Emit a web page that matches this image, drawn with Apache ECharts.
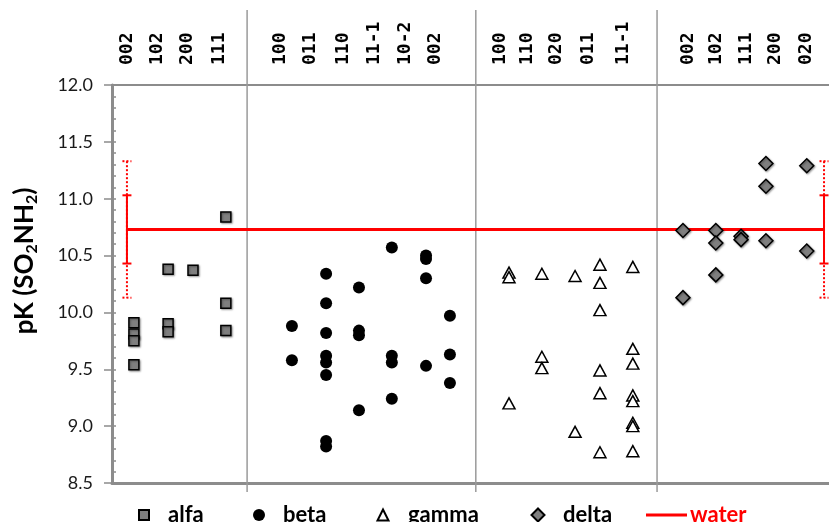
<!DOCTYPE html>
<html>
<head>
<meta charset="utf-8">
<script src="https://cdn.jsdelivr.net/npm/echarts@6/dist/echarts.min.js"></script>
<style>
  html, body { margin: 0; padding: 0; background: #fff; }
  #chart { width: 829px; height: 522px; }
</style>
</head>
<body>
<div id="chart"></div>
<script>
// Planes (hkl) per phase, their x slots, and measured pK values per plane
const alfaPlanes = ['002', '102', '200', '111'];
const alfaPos = [0.66, 1.69, 2.44, 3.43];
const alfaLabelPos = [0.45, 1.36, 2.26, 3.22];
const alfaValues = [[9.91, 9.81, 9.75, 9.54], [10.38, 9.90, 9.83], [10.37], [10.84, 10.08, 9.84]];

const betaPlanes = ['100', '011', '110', '11-1', '10-2', '002'];
const betaPos = [5.42, 6.45, 7.44, 8.43, 9.46, 10.18];
const betaLabelPos = [5.06, 5.96, 6.96, 7.89, 8.83, 9.73];
const betaValues = [
  [9.88, 9.58],
  [10.34, 10.08, 9.82, 9.62, 9.56, 9.45, 8.87, 8.82],
  [10.22, 9.84, 9.80, 9.14],
  [10.57, 9.62, 9.56, 9.24],
  [10.50, 10.47, 10.30, 9.53],
  [9.97, 9.63, 9.38]
];

const gammaPlanes = ['100', '110', '020', '011', '11-1'];
const gammaPos = [11.96, 12.95, 13.95, 14.70, 15.69];
const gammaLabelPos = [11.69, 12.50, 13.40, 14.34, 15.39];
const gammaValues = [
  [10.35, 10.31, 9.20],
  [10.34, 9.61, 9.51],
  [10.32, 8.95],
  [10.42, 10.26, 10.02, 9.49, 9.29, 8.77],
  [10.40, 9.68, 9.55, 9.27, 9.22, 9.03, 9.00, 8.78]
];

const deltaPlanes = ['002', '102', '111', '200', '020'];
const deltaPos = [17.20, 18.19, 18.95, 19.70, 20.93];
const deltaLabelPos = [17.35, 18.22, 19.10, 19.97, 20.93];
const deltaValues = [
  [10.72, 10.13],
  [10.72, 10.61, 10.33],
  [10.67, 10.64],
  [11.31, 11.11, 10.63],
  [11.29, 10.54]
];

// Phase boundaries on the x scale
const phaseBounds = [4.07, 10.96, 16.42];

// Water reference: mean pK, standard deviation, double deviation band, span
const waterPK = 10.73;
const waterSD = 0.30;
const waterBand = 0.60;
const waterSpan = [0.45, 21.45];

const xMax = 21.6;

function points(pos, values) {
  const out = [];
  values.forEach((vals, i) => vals.forEach(v => out.push([pos[i], v])));
  return out;
}
function labels(pos, names) {
  return names.map((n, i) => [pos[i], n]);
}

const planeLabels = [].concat(
  labels(alfaLabelPos, alfaPlanes),
  labels(betaLabelPos, betaPlanes),
  labels(gammaLabelPos, gammaPlanes),
  labels(deltaLabelPos, deltaPlanes)
);

const chart = echarts.init(document.getElementById('chart'), null, { renderer: 'canvas' });

const axisGray = '#8c8c8c';
const markerShadow = { shadowBlur: 2, shadowColor: 'rgba(0,0,0,0.35)', shadowOffsetX: 1, shadowOffsetY: 1 };
const legendText = { fontFamily: 'Lato', fontWeight: 'bold', fontSize: 22, color: '#000' };

// one legend per entry so each sits at its own spot on the bottom row
function markerLegend(name, left, size, gap) {
  return {
    left: left, top: 504, padding: 0, itemWidth: size, itemHeight: size,
    textStyle: Object.assign({ padding: [0, 0, 0, gap] }, legendText),
    data: [name]
  };
}

const option = {
  animation: false,
  backgroundColor: '#ffffff',
  grid: { left: 112, right: 0, top: 85, bottom: 39, containLabel: false },
  xAxis: [
    {
      type: 'value', min: 0, max: xMax, position: 'bottom',
      axisLine: { show: true, lineStyle: { color: axisGray, width: 3 } },
      axisTick: { show: false }, axisLabel: { show: false }, splitLine: { show: false }
    },
    {
      type: 'value', min: 0, max: xMax, position: 'top',
      axisLine: { show: true, lineStyle: { color: axisGray, width: 2 } },
      axisTick: { show: false }, axisLabel: { show: false }, splitLine: { show: false }
    }
  ],
  yAxis: [
    {
      type: 'value', min: 8.5, max: 12, interval: 0.5, position: 'left',
      axisLine: { show: true, lineStyle: { color: axisGray, width: 3 } },
      axisTick: { show: true, inside: false, length: 8, lineStyle: { color: axisGray, width: 1.5 } },
      axisLabel: {
        margin: 19, color: '#1a1a1a', fontFamily: 'Lato', fontSize: 18,
        formatter: v => v.toFixed(1)
      },
      splitLine: { show: false },
      name: '{a|pK (SO}{s|2}{a|NH}{s|2}{a|)}',
      nameLocation: 'middle', nameRotate: 90, nameGap: 72,
      nameTextStyle: {
        padding: [0, 0, 0, 46],
        rich: {
          a: { fontFamily: 'Lato', fontWeight: 'bold', fontSize: 26, lineHeight: 30, color: '#000' },
          s: { fontFamily: 'Lato', fontWeight: 'bold', fontSize: 16, lineHeight: 14, verticalAlign: 'bottom', color: '#000' }
        }
      }
    },
    {
      type: 'value', min: 8.5, max: 12, interval: 0.5, position: 'left',
      axisLine: { show: false },
      axisTick: { show: true, inside: true, length: 4, lineStyle: { color: axisGray, width: 1.5 } },
      minorTick: { show: true, splitNumber: 5, length: 4, lineStyle: { color: axisGray, width: 1.5 } },
      axisLabel: { show: false }, splitLine: { show: false }
    }
  ],
  legend: [
    markerLegend('alfa', 138, 10, 14),
    markerLegend('beta', 253, 12, 13),
    markerLegend('gamma', 376.5, 11, 14.5),
    markerLegend('delta', 530.5, 13, 13.5),
    {
      left: 646, top: 504, padding: 0, itemWidth: 41, itemHeight: 3,
      textStyle: Object.assign({}, legendText, { color: '#ff0000', padding: [0, 0, 0, -2] }),
      data: [{ name: 'water', icon: 'rect' }]
    }
  ],
  series: [
    {
      // phase separators, running from the label band down below the axis
      type: 'custom', name: 'bounds', silent: true, clip: false, z: 1,
      data: phaseBounds.map(b => [b]),
      renderItem: (params, api) => {
        const top = api.coord([api.value(0), 12]);
        const bottom = api.coord([api.value(0), 8.5]);
        return {
          type: 'line',
          shape: { x1: top[0], y1: top[1] - 75, x2: bottom[0], y2: bottom[1] + 9 },
          style: { stroke: '#9a9a9a', lineWidth: 1.5 }
        };
      }
    },
    {
      // hkl plane labels above the plot
      type: 'custom', name: 'planes', silent: true, clip: false, z: 5,
      data: planeLabels,
      renderItem: (params, api) => {
        const p = api.coord([api.value(0), 12]);
        return {
          type: 'text',
          x: p[0], y: p[1] - 20, rotation: Math.PI / 2,
          style: {
            text: planeLabels[params.dataIndex][1],
            fontFamily: 'DejaVu Sans Mono', fontWeight: 'bold', fontSize: 18,
            fill: '#000', align: 'left', verticalAlign: 'middle'
          }
        };
      }
    },
    {
      name: 'water', type: 'line', z: 2, symbol: 'none',
      data: waterSpan.map(x => [x, waterPK]),
      lineStyle: { color: '#ff0000', width: 3 },
      itemStyle: { color: '#ff0000' }
    },
    {
      // water deviation bars at both ends of the reference line
      type: 'custom', name: 'waterErr', silent: true, clip: false, z: 3,
      data: waterSpan.map(x => [x, waterPK]),
      renderItem: (params, api) => {
        const x = api.value(0), m = api.value(1);
        const sHi = api.coord([x, m + waterSD]), sLo = api.coord([x, m - waterSD]);
        const bHi = api.coord([x, m + waterBand]), bLo = api.coord([x, m - waterBand]);
        const c = 4.5;
        const solid = { stroke: '#ff0000', lineWidth: 2 };
        const dotted = { stroke: '#ff0000', lineWidth: 2, lineDash: [2, 2] };
        const ln = (x1, y1, x2, y2, st) => ({ type: 'line', shape: { x1, y1, x2, y2 }, style: st });
        return {
          type: 'group',
          children: [
            ln(bHi[0], bHi[1], bLo[0], bLo[1], dotted),
            ln(bHi[0] - c, bHi[1], bHi[0] + c, bHi[1], dotted),
            ln(bLo[0] - c, bLo[1], bLo[0] + c, bLo[1], dotted),
            ln(sHi[0], sHi[1], sLo[0], sLo[1], solid),
            ln(sHi[0] - c, sHi[1], sHi[0] + c, sHi[1], solid),
            ln(sLo[0] - c, sLo[1], sLo[0] + c, sLo[1], solid)
          ]
        };
      }
    },
    {
      name: 'alfa', type: 'scatter', z: 4, symbol: 'rect', symbolSize: 10,
      data: points(alfaPos, alfaValues),
      itemStyle: Object.assign({ color: '#7f7f7f', borderColor: '#000', borderWidth: 1.5, opacity: 1 }, markerShadow)
    },
    {
      name: 'beta', type: 'scatter', z: 4, symbol: 'circle', symbolSize: 12,
      data: points(betaPos, betaValues),
      itemStyle: { color: '#000', borderColor: '#000', borderWidth: 0, opacity: 1 }
    },
    {
      name: 'gamma', type: 'scatter', z: 4, symbol: 'triangle', symbolSize: [12, 11],
      data: points(gammaPos, gammaValues),
      itemStyle: { color: '#ffffff', borderColor: '#000', borderWidth: 1.5, opacity: 1 }
    },
    {
      name: 'delta', type: 'scatter', z: 4, symbol: 'diamond', symbolSize: 14,
      data: points(deltaPos, deltaValues),
      itemStyle: Object.assign({ color: '#7f7f7f', borderColor: '#000', borderWidth: 1.5, opacity: 1 }, markerShadow)
    }
  ]
};

chart.setOption(option);
</script>
</body>
</html>
